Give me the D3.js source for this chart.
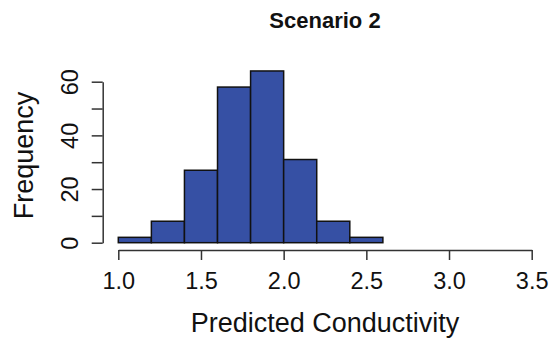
<!DOCTYPE html>
<html>
<head>
<meta charset="utf-8">
<script src="https://cdn.jsdelivr.net/npm/d3@7"></script>
<style>
  html, body { margin: 0; padding: 0; background: #fff; }
  svg { display: block; font-family: "Liberation Sans", Arial, Helvetica, sans-serif; }
</style>
</head>
<body>
<div id="chart"></div>
<script>
// histogram bins (lower edges) and counts
const binStarts = [1.0, 1.2, 1.4, 1.6, 1.8, 2.0, 2.2, 2.4];
const binWidth = 0.2;
const counts = [2, 8, 27, 58, 64, 31, 8, 2];

const xTicks = [1.0, 1.5, 2.0, 2.5, 3.0, 3.5];
const yTicks = [0, 10, 20, 30, 40, 50, 60];
const yLabelled = [0, 20, 40, 60];

const titleText = "Scenario 2";
const xTitle = "Predicted Conductivity";
const yTitle = "Frequency";

const width = 553;
const height = 338;
const axisColor = "#333";

const x = d3.scaleLinear().domain([1.0, 3.5]).range([118.3, 531.7]);
const y = d3.scaleLinear().domain([0, 60]).range([242.7, 81.7]);

const svg = d3.select("#chart").append("svg")
  .attr("width", width)
  .attr("height", height);

// bars
svg.append("g")
  .selectAll("rect")
  .data(binStarts.map((start, i) => ({ start, count: counts[i] })))
  .join("rect")
  .attr("x", (d) => x(d.start))
  .attr("y", (d) => y(d.count))
  .attr("width", (d) => x(d.start + binWidth) - x(d.start))
  .attr("height", (d) => y(0) - y(d.count))
  .attr("fill", "#3650a4")
  .attr("stroke", "#111")
  .attr("stroke-width", 1.5);

// x axis
const xAxis = svg.append("g")
  .attr("transform", "translate(0,250)")
  .call(d3.axisBottom(x).tickValues(xTicks).tickSize(10).tickSizeOuter(0).tickFormat(d3.format(".1f")));
xAxis.select(".domain").attr("stroke", axisColor).attr("stroke-width", 1.5);
xAxis.selectAll(".tick line").attr("stroke", axisColor).attr("stroke-width", 1.5);
xAxis.selectAll(".tick text")
  .attr("y", 39)
  .attr("dy", null)
  .attr("fill", "#111")
  .style("font-size", "23.5px")
  .style("font-family", "'Liberation Sans', Arial, sans-serif");

// y axis
const yAxis = svg.append("g")
  .attr("transform", "translate(102.7,0)")
  .call(d3.axisLeft(y).tickValues(yTicks).tickSize(11).tickSizeOuter(0)
    .tickFormat((d) => (yLabelled.includes(d) ? d : "")));
yAxis.select(".domain").attr("stroke", axisColor).attr("stroke-width", 1.5);
yAxis.selectAll(".tick line").attr("stroke", axisColor).attr("stroke-width", 1.5);
yAxis.selectAll(".tick text")
  .attr("x", null)
  .attr("dy", null)
  .attr("text-anchor", "middle")
  .attr("transform", "translate(-24.7,0) rotate(-90)")
  .attr("fill", "#111")
  .style("font-size", "23.5px")
  .style("font-family", "'Liberation Sans', Arial, sans-serif");

// title
svg.append("text")
  .attr("x", 325)
  .attr("y", 28)
  .attr("text-anchor", "middle")
  .style("font-size", "22px")
  .style("font-weight", "bold")
  .attr("fill", "#111")
  .text(titleText);

// x label
svg.append("text")
  .attr("x", 325)
  .attr("y", 332)
  .attr("text-anchor", "middle")
  .style("font-size", "27px")
  .attr("fill", "#111")
  .text(xTitle);

// y label
svg.append("text")
  .attr("transform", "translate(33,155.5) rotate(-90)")
  .attr("text-anchor", "middle")
  .style("font-size", "27px")
  .attr("fill", "#111")
  .text(yTitle);
</script>
</body>
</html>
